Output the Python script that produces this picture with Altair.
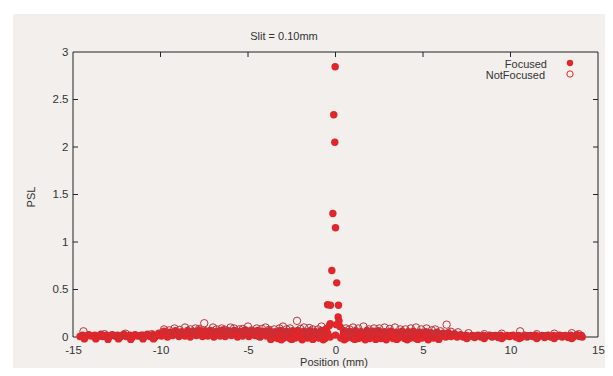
import altair as alt
import pandas as pd

# ---------------- data ----------------
# Focused: bottom row, upper row, middle row, below-axis row, then the central peak
focused_x = [
    -14.6, -14.3, -13.95, -13.6, -13.3, -12.95, -12.6, -12.3, -11.95, -11.6, -11.3, -10.95, -10.6, -10.3,
    -9.95, -9.6, -9.3, -8.95, -8.6, -8.3, -7.95, -7.6, -7.3, -6.95, -6.6, -6.3, -5.95, -5.6, -5.3, -4.95,
    -4.6, -4.3, -3.95, -3.6, -3.3, -2.95, -2.6, -2.3, -1.95, -1.6, -1.3, -0.95, -0.6, -0.3, 0.0, 0.3,
    0.6, 0.95, 1.3, 1.6, 1.95, 2.3, 2.6, 2.95, 3.3, 3.6, 3.95, 4.3, 4.6, 4.95, 5.3, 5.6, 5.95, 6.3,
    6.6, 6.95, 7.3, 7.6, 7.95, 8.3, 8.6, 8.95, 9.3, 9.6, 9.95, 10.3, 10.6, 10.95, 11.3, 11.6, 11.95,
    12.3, 12.6, 12.95, 13.3, 13.6, 13.95, 14.1,
    -14.45, -14.1, -13.75, -13.4, -13.1, -12.75, -12.45, -12.1, -11.75, -11.45, -11.1, -10.75, -10.45,
    -10.1, -9.8, -9.45, -9.15, -8.8, -8.45, -8.15, -7.8, -7.45, -7.15, -6.8, -6.45, -6.15, -5.8, -5.45,
    -5.15, -4.8, -4.45, -4.15, -3.8, -3.45, -3.15, -2.8, -2.45, -2.15, -1.8, -1.45, -1.15, -0.8, -0.55,
    0.45, 0.8, 1.15, 1.45, 1.8, 2.15, 2.45, 2.8, 3.15, 3.45, 3.8, 4.15, 4.45, 4.8, 5.15, 5.45, 5.8,
    6.15, 6.45, 6.8, 7.15, 7.45, 7.8, 8.15, 8.45, 8.8, 9.15, 9.45, 9.8, 10.15, 10.45, 10.8, 11.15,
    11.45, 11.8, 12.15, 12.45, 12.8, 13.15, 13.45, 13.8, 14.05,
    -14.5, -14.15, -13.8, -13.45, -13.15, -12.8, -12.5, -12.15, -11.8, -11.5, -11.15, -10.8, -10.5,
    -10.15, -9.85, -9.5, -9.2, -8.85, -8.5, -8.2, -7.85, -7.5, -7.2, -6.85, -6.5, -6.2, -5.85, -5.5,
    -5.2, -4.85, -4.5, -4.2, -3.85, -3.5, -3.2, -2.85, -2.5, -2.2, -1.85, -1.5, -1.2, -0.85, -0.45,
    0.45, 0.85, 1.2, 1.5, 1.85, 2.2, 2.5, 2.85, 3.2, 3.5, 3.85, 4.2, 4.5, 4.85, 5.2, 5.5, 5.85,
    6.2, 6.5, 6.85, 7.2, 7.5, 7.85, 8.5, 9.2, 9.9, 10.6, 11.3, 12.0, 12.7, 13.4, 14.0,
    -14.35, -13.7, -13.0, -12.4, -11.7, -11.0, -10.4, -3.7, -3.1, -2.5, -1.9, -1.3, -0.7, 0.5, 1.1,
    1.7, 2.3, 2.9, 3.5, 4.1, 4.7, 5.3, 5.9, 7.5, 8.5, 9.5, 10.5, 11.5, 12.5, 13.5,
    -0.02, -0.1, -0.04, -0.15, 0.0, -0.21, 0.07, -0.45, -0.29, 0.17, 0.15, 0.2, -0.3, -0.35, 0.05,
    0.25, -0.5,
]
focused_y = [
    0.005, 0.0, 0.01, 0.0, 0.005, 0.0, 0.01, 0.0, 0.005, 0.0, 0.01, 0.0, 0.005, 0.0,
    0.01, 0.0, 0.015, 0.005, 0.01, 0.0, 0.015, 0.005, 0.01, 0.0, 0.01, 0.005, 0.015, 0.0, 0.01, 0.005,
    0.015, 0.0, 0.01, -0.01, -0.015, -0.01, -0.015, -0.01, -0.015, -0.01, -0.015, -0.01, -0.015, 0.0, 0.02, -0.01,
    -0.015, -0.01, -0.015, -0.01, -0.015, -0.01, -0.015, -0.01, -0.015, -0.01, -0.015, -0.01, -0.015, -0.01, -0.015, -0.01, -0.005, 0.0,
    0.005, 0.0, 0.0, 0.005, -0.005, 0.0, 0.005, 0.0, -0.005, 0.0, 0.005, 0.0, -0.005, 0.0, 0.005, 0.0, -0.005,
    0.0, 0.005, 0.0, -0.005, 0.0, 0.005, 0.0,
    0.02, 0.025, 0.02, 0.03, 0.02, 0.025, 0.02, 0.03, 0.02, 0.025, 0.02, 0.03, 0.025,
    0.04, 0.06, 0.05, 0.065, 0.055, 0.07, 0.06, 0.075, 0.065, 0.07, 0.06, 0.075, 0.065, 0.07, 0.06,
    0.075, 0.065, 0.07, 0.06, 0.065, 0.055, 0.07, 0.06, 0.065, 0.07, 0.06, 0.065, 0.055, 0.07, 0.08,
    0.07, 0.06, 0.065, 0.055, 0.07, 0.06, 0.065, 0.055, 0.06, 0.05, 0.06, 0.055, 0.06, 0.05, 0.055, 0.045, 0.05,
    0.04, 0.045, 0.035, 0.025, 0.02, 0.015, 0.02, 0.015, 0.02, 0.015, 0.02, 0.015, 0.02, 0.015, 0.02, 0.015,
    0.02, 0.015, 0.02, 0.015, 0.02, 0.015, 0.02, 0.025, 0.015,
    0.01, 0.015, 0.01, 0.015, 0.01, 0.015, 0.01, 0.015, 0.01, 0.015, 0.01, 0.015, 0.01,
    0.02, 0.035, 0.03, 0.04, 0.035, 0.045, 0.03, 0.04, 0.035, 0.045, 0.03, 0.04, 0.035, 0.045, 0.03,
    0.04, 0.035, 0.045, 0.03, 0.04, 0.02, 0.03, 0.025, 0.035, 0.02, 0.03, 0.025, 0.035, 0.03, 0.04,
    0.03, 0.025, 0.035, 0.02, 0.03, 0.025, 0.035, 0.02, 0.03, 0.025, 0.03, 0.02, 0.03, 0.025, 0.03, 0.02, 0.025,
    0.02, 0.015, 0.015, 0.01, 0.01, 0.008, 0.01, 0.008, 0.01, 0.008, 0.01, 0.008, 0.01, 0.008, 0.01,
    -0.02, -0.02, -0.025, -0.02, -0.025, -0.02, -0.02, -0.025, -0.03, -0.025, -0.03, -0.025, -0.03, -0.03, -0.025,
    -0.03, -0.025, -0.03, -0.025, -0.03, -0.025, -0.03, -0.025, -0.015, -0.015, -0.015, -0.015, -0.015, -0.015, -0.015,
    2.845, 2.34, 2.05, 1.30, 1.15, 0.70, 0.57, 0.34, 0.335, 0.335, 0.21, 0.17, 0.14, 0.12, 0.13,
    0.11, 0.09,
]

notfocused_x = [
    -14.4, -13.2, -12.0, -10.5, -9.8, -9.2, -8.6, -8.0, -7.5, -7.0, -6.5, -6.0, -5.5, -5.0, -4.5,
    -4.0, -3.5, -3.0, -2.6, -2.2, -1.8, -1.3, -0.8, 0.6, 1.0, 1.6, 2.2, 2.8, 3.4, 4.0, 4.6, 5.2,
    5.7, 6.35, 7.0, 7.6, 8.5, 9.5, 10.55, 11.5, 12.5, 13.5, 13.9,
    -12.5, -11.0, -9.0, -8.2, -7.2, -6.2, -5.2, -4.4, -3.7, -2.9, -1.6, -0.9, 0.9, 1.9, 2.6, 3.7,
    4.3, 5.4, 6.0, 8.0, 9.0, 11.0, 12.0, 13.0,
    -9.5, -8.9, -8.3, -7.8, -6.8, -6.3, -5.8, -5.3, -4.8, -4.2, -3.8, -3.2, -2.8, -2.0, -1.5, -1.0,
    0.8, 1.3, 1.9, 2.5, 3.1, 3.7, 4.3, 4.9, 5.5, 6.0, 6.6,
]
notfocused_y = [
    0.06, 0.03, 0.035, 0.03, 0.08, 0.09, 0.1, 0.09, 0.145, 0.1, 0.09, 0.1, 0.08, 0.11, 0.09,
    0.1, 0.08, 0.11, 0.09, 0.17, 0.1, 0.08, 0.11, 0.09, 0.1, 0.11, 0.09, 0.1, 0.1, 0.08, 0.1, 0.09,
    0.08, 0.13, 0.05, 0.04, 0.03, 0.035, 0.06, 0.03, 0.035, 0.04, 0.03,
    0.01, 0.015, 0.03, 0.04, 0.03, 0.04, 0.03, 0.01, 0.04, 0.03, 0.04, 0.03, 0.03, 0.04, 0.03, 0.04,
    0.03, 0.03, 0.02, 0.01, 0.01, 0.01, 0.01, 0.01,
    0.07, 0.075, 0.08, 0.085, 0.08, 0.075, 0.09, 0.085, 0.07, 0.085, 0.075, 0.09, 0.08, 0.085, 0.095, 0.08,
    0.08, 0.09, 0.08, 0.09, 0.085, 0.08, 0.09, 0.08, 0.07, 0.06, 0.055,
]

x_ticks = [-15, -10, -5, 0, 5, 10, 15]
y_ticks = [0, 0.5, 1, 1.5, 2, 2.5, 3]
x_inner_ticks = [-10, -5, 0, 5, 10]
y_inner_ticks = [0.5, 1, 1.5, 2, 2.5]

title_text = "Slit = 0.10mm"
x_title = "Position (mm)"
y_title = "PSL"
series_names = ["Focused", "NotFocused"]

# ---------------- styling ----------------
W, H = 525, 285
FONT = "Liberation Sans"
TXT = "#333333"
BG = "#f2efed"
RED = "#e0262a"
RED_OPEN = "#b8363f"
PT = 55

df_f = pd.DataFrame({"x": focused_x, "y": focused_y})
df_nf = pd.DataFrame({"x": notfocused_x, "y": notfocused_y})
one = pd.DataFrame({"a": [0]})

xs = alt.Scale(domain=[-15, 15], nice=False, zero=False)
ys = alt.Scale(domain=[0, 3], nice=False, zero=False)

x_axis = alt.Axis(values=x_ticks, title=None, ticks=False, domain=False, grid=False,
                  labelPadding=7, labelFontSize=11.5, labelFont=FONT, labelColor=TXT,
                  labelExpr="'' + datum.value", labelFlush=False, zindex=2)
y_axis = alt.Axis(values=y_ticks, title=None, ticks=False, domain=False, grid=False,
                  labelPadding=5, labelFontSize=11.5, labelFont=FONT, labelColor=TXT,
                  labelExpr="'' + datum.value", zindex=2)

bg = alt.Chart(one).mark_rect(color=BG).encode(
    x=alt.value(-60), x2=alt.value(W + 7), y=alt.value(-38), y2=alt.value(H + 31)
)

frame = alt.Chart(one).mark_rect(filled=False, stroke="#222222", strokeWidth=1).encode(
    x=alt.value(0), x2=alt.value(W), y=alt.value(0), y2=alt.value(H)
)

df_xt = pd.DataFrame({"t": x_inner_ticks})
df_yt = pd.DataFrame({"t": y_inner_ticks})
tick_style = dict(color="#222222", strokeWidth=1)
xt_bottom = alt.Chart(df_xt).mark_rule(**tick_style).encode(
    x=alt.X("t:Q", scale=xs, axis=x_axis), y=alt.value(H), y2=alt.value(H - 5))
xt_top = alt.Chart(df_xt).mark_rule(**tick_style).encode(
    x=alt.X("t:Q", scale=xs, axis=x_axis), y=alt.value(0), y2=alt.value(5))
yt_left = alt.Chart(df_yt).mark_rule(**tick_style).encode(
    y=alt.Y("t:Q", scale=ys, axis=y_axis), x=alt.value(0), x2=alt.value(5))
yt_right = alt.Chart(df_yt).mark_rule(**tick_style).encode(
    y=alt.Y("t:Q", scale=ys, axis=y_axis), x=alt.value(W), x2=alt.value(W - 5))

pts_f = alt.Chart(df_f).mark_circle(color=RED, size=PT, opacity=1).encode(
    x=alt.X("x:Q", scale=xs, axis=x_axis), y=alt.Y("y:Q", scale=ys, axis=y_axis))
pts_nf = alt.Chart(df_nf).mark_point(shape="circle", filled=False, stroke=RED_OPEN,
                                     strokeWidth=1, size=PT, opacity=1).encode(
    x=alt.X("x:Q", scale=xs, axis=x_axis), y=alt.Y("y:Q", scale=ys, axis=y_axis))

# legend (top right, labels left of symbols)
leg_f_txt = alt.Chart(one).mark_text(text=series_names[0], align="right", baseline="middle",
                                     font=FONT, fontSize=11, color=TXT).encode(
    x=alt.value(474), y=alt.value(13))
leg_nf_txt = alt.Chart(one).mark_text(text=series_names[1], align="right", baseline="middle",
                                      font=FONT, fontSize=11, color=TXT).encode(
    x=alt.value(472), y=alt.value(24))
leg_f_sym = alt.Chart(one).mark_circle(color=RED, size=40, opacity=1).encode(
    x=alt.value(497), y=alt.value(11))
leg_nf_sym = alt.Chart(one).mark_point(shape="circle", filled=False, stroke=RED,
                                       strokeWidth=1, size=40, opacity=1).encode(
    x=alt.value(497), y=alt.value(22))

title_mark = alt.Chart(one).mark_text(text=title_text, align="center", baseline="alphabetic",
                                      font=FONT, fontSize=11, color=TXT).encode(
    x=alt.value(211), y=alt.value(-12))
xtitle_mark = alt.Chart(one).mark_text(text=x_title, align="center", baseline="alphabetic",
                                       font=FONT, fontSize=11, color=TXT).encode(
    x=alt.value(261), y=alt.value(314))
ytitle_mark = alt.Chart(one).mark_text(text=y_title, align="center", baseline="middle", angle=270,
                                       font=FONT, fontSize=11, color=TXT).encode(
    x=alt.value(-41), y=alt.value(145))

chart = alt.layer(
    bg, frame, xt_bottom, xt_top, yt_left, yt_right, pts_f, pts_nf,
    leg_f_txt, leg_nf_txt, leg_f_sym, leg_nf_sym, title_mark, xtitle_mark, ytitle_mark,
).properties(
    width=W, height=H,
    autosize=alt.AutoSizeParams(type="none"),
    padding={"left": 65, "top": 44, "right": 7, "bottom": 31},
    background="white",
).configure_view(stroke=None)

chart.save("out.html", embed_options={"renderer": "svg", "actions": False})
